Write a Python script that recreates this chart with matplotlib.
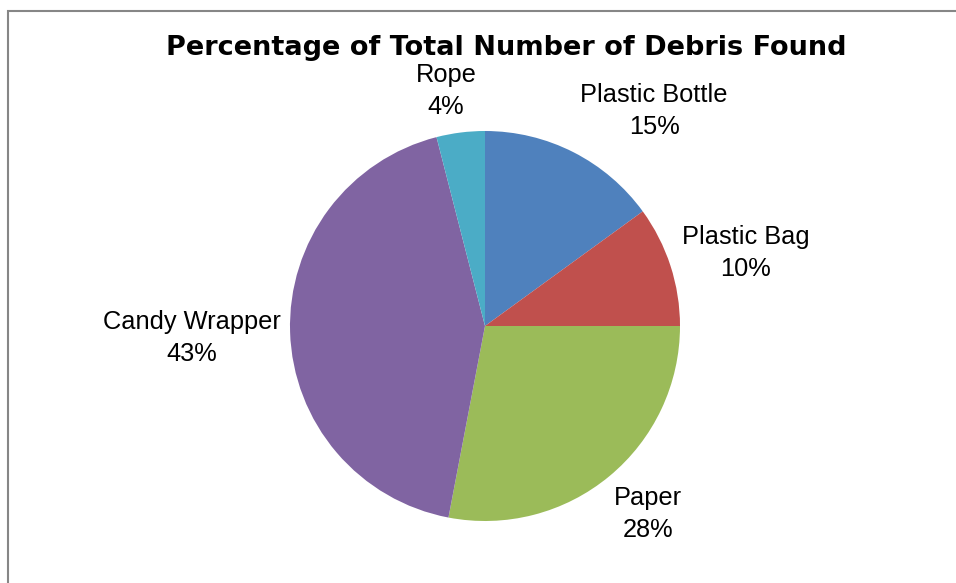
import matplotlib.pyplot as plt
from matplotlib.patches import Rectangle

# Dati
categories = ['Plastic Bottle', 'Plastic Bag', 'Paper', 'Candy Wrapper', 'Rope']
percentages = [15, 10, 28, 43, 4]
colors = ['#4F81BD', '#C0504D', '#9BBB59', '#8064A2', '#4BACC6']

# Posizione etichette (coordinate dati, raggio = 1)
label_pos = [(0.867, 1.103), (1.338, 0.374), (0.836, -0.964), (-1.503, -0.062), (-0.20, 1.205)]

plt.rcParams['font.family'] = ['Liberation Sans', 'DejaVu Sans']

fig = plt.figure(figsize=(9.56, 5.83), dpi=100)

# Cornice del grafico
fig.patches.append(Rectangle((7.5 / 956, -0.1), 1.2, 1 - 10.5 / 583 + 0.1,
                             transform=fig.transFigure, fill=False,
                             edgecolor='#868686', linewidth=1.5))

ax = fig.add_axes([290 / 956, 62 / 583, 390 / 956, 390 / 583])

ax.pie(
    percentages,
    colors=colors,
    startangle=90,
    counterclock=False,
    radius=1,
    wedgeprops={'linewidth': 0}
)

for name, pct, (x, y) in zip(categories, percentages, label_pos):
    ax.text(x, y, f'{name}\n{pct}%', ha='center', va='center',
            fontsize=18.3, linespacing=1.45, color='#000000')

ax.set_xlim(-1, 1)
ax.set_ylim(-1, 1)
ax.set_aspect('auto')
ax.axis('off')

fig.text(506 / 956, 1 - 48 / 583, 'Percentage of Total Number of Debris Found',
         ha='center', va='center', fontsize=19.5, fontweight='bold',
         family='DejaVu Sans')

plt.savefig('out.png', dpi=100)
